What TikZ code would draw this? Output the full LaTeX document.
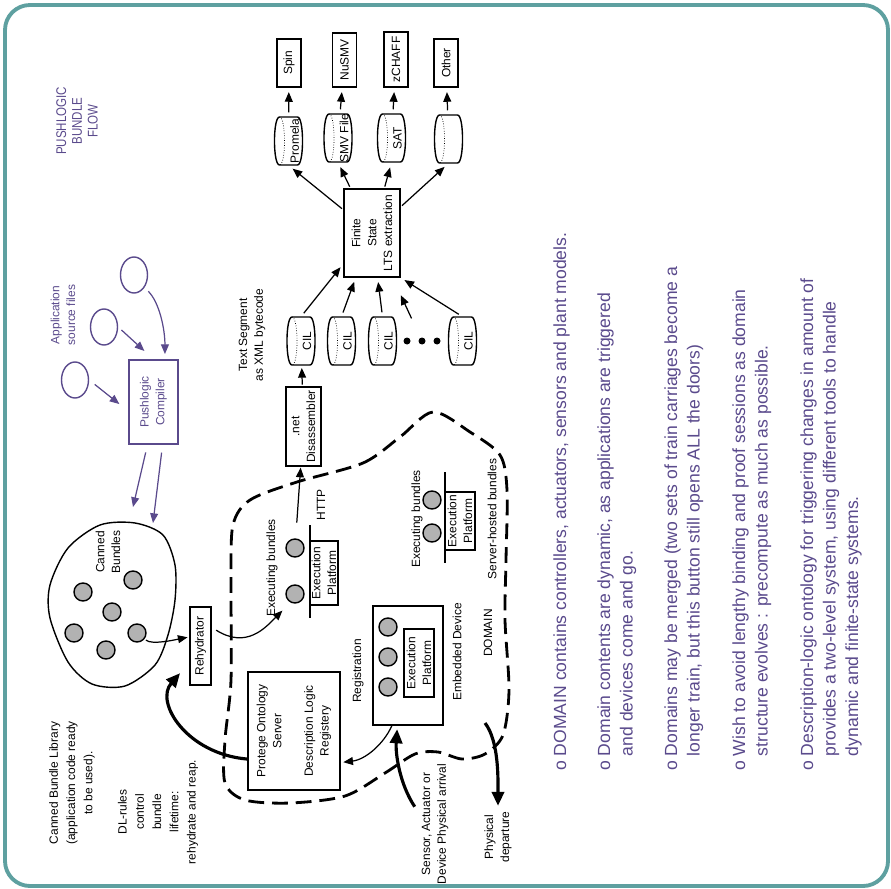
\documentclass[tikz,border=0pt]{standalone}
\usepackage{fontspec}
\setmainfont{Liberation Sans}
\newfontfamily\titlefont[FakeStretch=0.82]{Liberation Sans}
\usetikzlibrary{positioning,arrows.meta,calc,shapes.geometric}
\definecolor{plpurple}{RGB}{90,74,140}
\definecolor{frameteal}{RGB}{94,160,160}
\newcommand{\lblfont}{\fontsize{6.8}{9}\selectfont}
\newcommand{\bulfont}{\fontsize{10}{12.8}\selectfont}
\newcommand{\cyl}[4]{%
  \node[cylbody] (#1) at (#2,#3) {};
  \begin{scope}[shift={(#2,#3)}]
    \draw[thick] (-9,-24) .. controls (-15.7,-24) and (-15.7,24) .. (-9,24) -- (9,24)
      .. controls (15.7,24) and (15.7,-24) .. (9,-24) -- cycle;
    \draw[densely dotted] (-9,-24) .. controls (-2.3,-24) and (-2.3,24) .. (-9,24);
    \node[cyltext] (#1t) at (6,0) {#4};
  \end{scope}}

\begin{document}
\begin{tikzpicture}[x=0.02cm, y=-0.02cm,
  box/.style={draw, thick, rotate=90, inner sep=1pt, align=center, font=\lblfont},
  lbl/.style={rotate=90, inner sep=1pt, align=center, font=\lblfont},
  cylbody/.style={rotate=90, minimum width=0.96cm, minimum height=0.56cm, inner sep=0pt},
  cyltext/.style={rotate=90, inner sep=0pt, font=\lblfont},
  bundle/.style={circle, draw, thick, fill=black!30, minimum size=0.36cm, inner sep=0pt},
  bigdot/.style={circle, fill, minimum size=0.14cm, inner sep=0pt},
  src/.style={ellipse, draw=plpurple, thick, minimum width=0.54cm, minimum height=0.72cm},
  arr/.style={line width=0.7pt, -{Triangle[length=5.5pt,width=4.5pt]}},
  parr/.style={arr, plpurple},
  bigarr/.style={line width=1.8pt, -{Triangle[length=8pt,width=7pt]}},
  gapped/.style={shorten <=2.5pt, shorten >=2.5pt},
  bul/.style={rotate=90, anchor=north west, align=left, inner sep=0pt, text=plpurple, font=\bulfont},
  domainline/.style={line width=1.6pt, dash pattern=on 9pt off 4.5pt}]
  \useasboundingbox (0,0) rectangle (891,888);
  \draw[frameteal, line width=2.2pt, rounded corners=0.5cm] (5,5) rectangle (888,886);

  \draw[domainline] plot[smooth cycle] coordinates {(297,482) (363,463) (400,437) (433,412)
    (470,432) (500,455) (507,490) (506,560) (505,620) (509,690) (503,735) (485,754)
    (462,759) (438,752) (415,754) (385,773) (345,796) (290,803) (245,800) (225,783)
    (225,740) (231,680) (231,580) (233,525) (250,500)};
  \draw[thick] plot[smooth cycle] coordinates {(100,525) (135,523) (163,535) (175,565)
    (175,600) (168,635) (155,665) (125,686) (92,684) (68,662) (50,618) (50,585) (68,548)};

  \node[lbl, text=plpurple, font=\titlefont\fontsize{8}{9}\selectfont] (title) at (77,121) {PUSHLOGIC\\BUNDLE\\FLOW};
  \node[lbl, text=plpurple] (appsrc) at (63,315) {Application\\source files};
  \node[src] (src1) at (75,380) {};
  \node[src] (src2) at (104,327) {};
  \node[src] (src3) at (134,275) {};
  \node[box, draw=plpurple, text=plpurple, minimum width=1.68cm, minimum height=0.98cm] (comp) at (153.5,402) {Pushlogic\\Compiler};
  \coordinate (cin1) at (133,507);
  \coordinate (cin2) at (153,523);

  \foreach \n/\x/\y/\w/\t in {spin/289/63/0.96/Spin, nusmv/344.5/60/1.08/NuSMV,
      zchaff/396/59.5/1.1/zCHAFF, other/446/63/0.96/Other}
    \node[box, minimum width=\w cm, minimum height=0.48cm] (\n) at (\x,\y) {\t};
  \foreach \n/\x/\y/\t in {prom/288.5/141/Promela, smv/338/138/SMV File, sat/391.5/138/SAT, oth/448.5/139/{}}
    \cyl{\n}{\x}{\y}{\t};
  \foreach \n/\x in {cil1/301, cil2/341.5, cil3/382.5, cil4/462.5}
    \cyl{\n}{\x}{341}{CIL};
  \foreach \n/\x in {dt1/407, dt2/422, dt3/437}
    \node[bigdot] (\n) at (\x,341) {};

  \node[box, minimum width=1.76cm, minimum height=1.12cm] (fsm) at (372,233) {Finite\\State\\LTS extraction};
  \node[lbl] (tseg) at (252,335) {Text Segment\\as XML bytecode};
  \node[box, minimum width=1.58cm, minimum height=0.7cm] (dis) at (303.5,426.5) {.net\\Disassembler};

  \node[lbl] (canlbl) at (108,552) {Canned\\Bundles};
  \foreach \n/\x/\y in {cb1/83/592, cb2/133/580, cb3/112/612, cb4/74/633, cb5/137/633, cb6/106/650,
      ea1/295/548, ea2/295/594, eb1/432/500, eb2/432/533, ee1/388/627, ee2/388/657, ee3/388/687}
    \node[bundle] (\n) at (\x,\y) {};
  \node[lbl, font=\fontsize{6.8}{9.8}\selectfont] (lib) at (72,783) {Canned Bundle Library\\(application code ready\\to be used).};
  \node[lbl, font=\fontsize{6.8}{9.8}\selectfont] (dl) at (158,812) {DL-rules\\control\\bundle\\lifetime:\\rehydrate and reap.};
  \node[box, minimum width=1.56cm, minimum height=0.42cm] (reh) at (200.5,646) {Rehydrator};

  \node[lbl] (exl) at (272,568) {Executing bundles};
  \draw[thick] (310,525) -- (310,618);
  \node[box, minimum width=1.28cm, minimum height=0.56cm] (epl) at (324,573) {Execution\\Platform};
  \node[lbl] (http) at (321,505) {HTTP};
  \node[lbl] (exr) at (417,519) {Executing bundles};
  \draw[thick] (445,472) -- (445,563);
  \node[box, minimum width=1.16cm, minimum height=0.6cm] (epr) at (460,521) {Execution\\Platform};
  \node[lbl] (srv) at (492,519) {Server-hosted bundles};

  \node[box, minimum width=2.36cm, minimum height=1.84cm] (pro) at (294,731) {Protege Ontology\\Server\\[9pt]Description Logic\\Registery};
  \node[lbl] (reg) at (358,671) {Registration};
  \node[box, minimum width=2.38cm, minimum height=1.4cm] (emb) at (408,665.5) {};
  \node[box, minimum width=1.36cm, minimum height=0.6cm] (epe) at (419,663) {Execution\\Platform};
  \node[lbl] (embl) at (457,652) {Embedded Device};
  \node[lbl] (dom) at (488,633) {DOMAIN};
  \node[lbl] (sens) at (435,824) {Sensor, Actuator or\\Device Physical arrival};
  \node[lbl] (dep) at (498,837) {Physical\\departure};
  \coordinate (depfrom) at (485,723);

  \foreach \a/\b in {prom/spin, smv/nusmv, sat/zchaff, oth/other}
    \draw[arr, gapped] (\a) -- (\b);
  \foreach \a in {prom, smv, sat, oth}
    \draw[arr, shorten <=1pt, shorten >=3pt] (fsm) -- (\a.west);
  \draw[arr, gapped] (cil1.east) -- (fsm.137);
  \draw[arr, gapped] (cil2.east) -- (fsm);
  \draw[arr, gapped] (cil3.east) -- (fsm);
  \draw[arr, gapped] (cil4.east) -- (fsm.south west);
  \draw[arr, shorten <=12pt, shorten >=11pt] (dt2) -- (fsm);
  \draw[arr, shorten <=1pt, shorten >=1.5pt] (dis) -- (cil1);
  \draw[arr, shorten <=9pt, shorten >=0.5pt] (ea1) -- (dis);

  \draw[parr, shorten <=4pt, shorten >=6.5pt] (src1.east) -- (comp.110);
  \draw[parr, shorten <=2.5pt, shorten >=7pt] (src2.east) -- (comp.east);
  \draw[parr, shorten <=3pt, shorten >=3pt] (src3.-50) .. controls +(15,15) and +(0,-30) .. (comp.-15);
  \draw[parr, shorten <=4.5pt] (comp.172) -- (cin1);
  \draw[parr, shorten <=4.5pt] (comp.192) -- (cin2);

  \draw[arr, shorten <=1pt, shorten >=1pt] (cb5) .. controls +(15,12) and +(-15,3) .. (reh.51);
  \draw[arr, shorten <=3pt, shorten >=6.5pt] (reh.-31) .. controls +(35,22) and +(-25,25) .. (ea2.242);
  \draw[bigarr, shorten >=8pt] (pro.121) .. controls +(-60,-5) and +(-35,40) .. (reh.146);
  \draw[arr, shorten >=1.5pt] (emb.165) .. controls +(-8,18) and +(25,-3) .. (pro.236);
  \draw[bigarr, shorten <=5pt, shorten >=2pt] (sens.57) .. controls +(-20,-30) and +(-2,28) .. (emb.170);
  \draw[bigarr, shorten >=2pt] (depfrom) .. controls +(14,18) and +(0,-30) .. (dep.east);

  \node[bul] (b1) at (553,771) {o\ DOMAIN contains controllers, actuators, sensors and plant models.};
  \node[bul] (b2) at (597,771) {o\ Domain contents are dynamic, as applications are triggered\\\hphantom{o\ }and devices come and go.};
  \node[bul] (b3) at (664,771) {o\ Domains may be merged (two sets of train carriages become a\\\hphantom{o\ }longer train, but this button still opens ALL the doors)};
  \node[bul] (b4) at (732,771) {o\ Wish to avoid lengthy binding and proof sessions as domain\\\hphantom{o\ }structure evolves : precompute as much as possible.};
  \node[bul] (b5) at (800,771) {o\ Description-logic ontology for triggering changes in amount of\\\hphantom{o\ }provides a two-level system, using different tools to handle\\\hphantom{o\ }dynamic and finite-state systems.};
\end{tikzpicture}
\end{document}
